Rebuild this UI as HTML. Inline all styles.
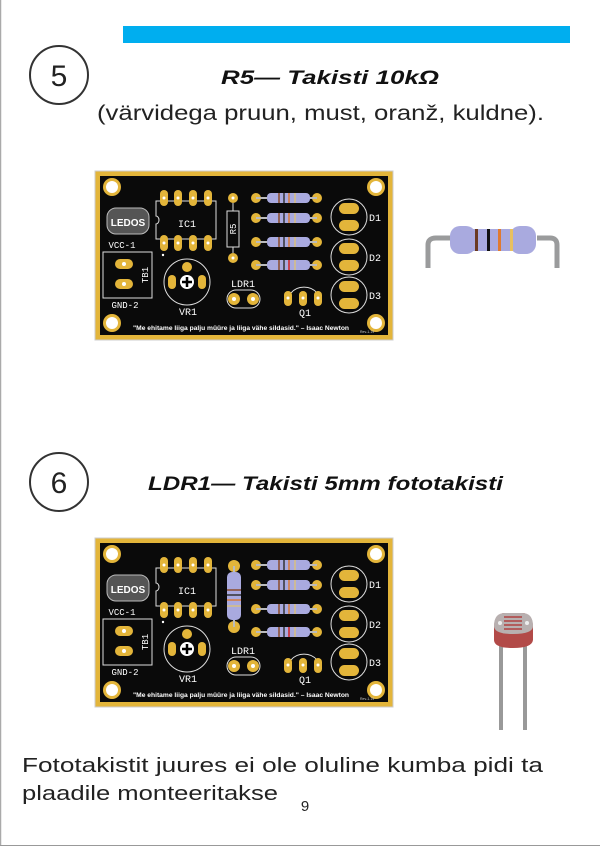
<!DOCTYPE html>
<html><head><meta charset="utf-8"><style>
html,body{margin:0;padding:0;background:#fff}
svg{display:block}
.t{font-family:"Liberation Sans","DejaVu Sans",sans-serif}
.m{font-family:"Liberation Mono","DejaVu Sans Mono",monospace;fill:#fff}
</style></head><body>
<svg width="600" height="846" viewBox="0 0 600 846" xmlns="http://www.w3.org/2000/svg">
<rect x="0" y="0" width="600" height="846" fill="#fff"/>
<line x1="0.5" y1="0" x2="0.5" y2="846" stroke="#aaa" stroke-width="1.5"/>
<line x1="0" y1="845.5" x2="600" y2="845.5" stroke="#999" stroke-width="1"/>
<rect x="123" y="26" width="447" height="17" fill="#00aeef"/>

<circle cx="59" cy="75" r="29" fill="none" stroke="#333" stroke-width="2"/>
<text x="59" y="86" text-anchor="middle" class="t" font-size="30" fill="#222">5</text>
<text x="330" y="84" text-anchor="middle" class="t" font-size="19" font-weight="bold" font-style="italic" fill="#111" textLength="218" lengthAdjust="spacingAndGlyphs">R5— Takisti 10kΩ</text>
<text x="97" y="120" class="t" font-size="21" fill="#222" textLength="447" lengthAdjust="spacingAndGlyphs">(värvidega pruun, must, oranž, kuldne).</text>

<circle cx="59" cy="482" r="29" fill="none" stroke="#333" stroke-width="2"/>
<text x="59" y="493" text-anchor="middle" class="t" font-size="30" fill="#222">6</text>
<text x="148" y="490" class="t" font-size="19" font-weight="bold" font-style="italic" fill="#111" textLength="355" lengthAdjust="spacingAndGlyphs">LDR1— Takisti 5mm fototakisti</text>

<text x="22" y="772" class="t" font-size="20" fill="#222" textLength="521" lengthAdjust="spacingAndGlyphs">Fototakistit juures ei ole oluline kumba pidi ta</text>
<text x="22" y="800" class="t" font-size="20" fill="#222" textLength="256" lengthAdjust="spacingAndGlyphs">plaadile monteeritakse</text>
<text x="305" y="811" text-anchor="middle" class="t" font-size="15" fill="#222">9</text>

<!-- resistor photo -->
<g>
<path d="M428 268 L428 245 Q428 238 436 238 L450 238" fill="none" stroke="#9a9b9c" stroke-width="5"/>
<path d="M537 238 L550 238 Q557 238 557 245 L557 268" fill="none" stroke="#9a9b9c" stroke-width="5"/>
<rect x="450" y="226" width="26" height="28" rx="10" fill="#a9aadf"/>
<rect x="510" y="226" width="26" height="28" rx="10" fill="#a9aadf"/>
<rect x="460" y="229" width="66" height="22" fill="#a9aadf"/>
<rect x="475" y="229" width="3" height="22" fill="#6b3a22"/>
<rect x="487" y="229" width="3" height="22" fill="#111"/>
<rect x="498" y="229" width="3" height="22" fill="#e07a30"/>
<rect x="510" y="229" width="3" height="22" fill="#e8c060"/>
</g>

<!-- LDR photo -->
<g>
<rect x="499" y="640" width="4" height="90" fill="#999"/>
<rect x="523" y="640" width="4" height="90" fill="#999"/>
<path d="M494 628 Q494 613 505 613 L522 613 Q533 613 533 628 L533 640 Q532 648 513 648 Q494 648 494 640 Z" fill="#b24a48"/>
<path d="M494 626 Q494 613 505 613 L522 613 Q533 613 533 626 Q533 634 513 634 Q494 634 494 626 Z" fill="#b8b0b0"/>
<path d="M504 617 h18 M504 621 h18 M504 625 h18 M504 629 h18" stroke="#b04040" stroke-width="1.5"/>
<circle cx="500" cy="623" r="2" fill="#eee"/><circle cx="527" cy="623" r="2" fill="#eee"/>
</g>

<!-- BOARD 1 -->
<g transform="translate(95,171)">
<rect x="0" y="0" width="298" height="169" fill="#e3b53a" stroke="#ccc" stroke-width="1"/>
<rect x="5" y="5" width="288" height="159" fill="#0a0a0a"/>
<g fill="#e3b53a"><circle cx="17" cy="16" r="9"/><circle cx="281" cy="16" r="9"/><circle cx="17" cy="152" r="9"/><circle cx="281" cy="152" r="9"/></g>
<g fill="#fff"><circle cx="17" cy="16" r="6"/><circle cx="281" cy="16" r="6"/><circle cx="17" cy="152" r="6"/><circle cx="281" cy="152" r="6"/></g>
<rect x="12" y="37" width="42" height="26" rx="9" fill="#555" stroke="#bbb" stroke-width="1"/>
<text x="33" y="55" text-anchor="middle" class="t" font-size="10" font-weight="bold" fill="#fff">LEDOS</text>
<text x="27" y="77" text-anchor="middle" class="m" font-size="9">VCC-1</text>
<rect x="8" y="81" width="49" height="46" fill="none" stroke="#ddd" stroke-width="1"/>
<g fill="#e3b53a"><rect x="20" y="88" width="18" height="10" rx="5"/><rect x="20" y="108" width="18" height="10" rx="5"/></g>
<g fill="#fff"><circle cx="29" cy="93" r="2"/><circle cx="29" cy="113" r="2"/></g>
<text transform="translate(53,104) rotate(-90)" text-anchor="middle" class="m" font-size="9">TB1</text>
<text x="30" y="137" text-anchor="middle" class="m" font-size="9">GND-2</text>
<path d="M61 30 H121 V68 H61 V53 A3 4 0 0 0 61 45 Z" fill="none" stroke="#ddd" stroke-width="1"/>
<g fill="#e3b53a"><rect x="65" y="19" width="8" height="16" rx="4"/><rect x="79" y="19" width="8" height="16" rx="4"/><rect x="94" y="19" width="8" height="16" rx="4"/><rect x="109" y="19" width="8" height="16" rx="4"/><rect x="65" y="64" width="8" height="16" rx="4"/><rect x="79" y="64" width="8" height="16" rx="4"/><rect x="94" y="64" width="8" height="16" rx="4"/><rect x="109" y="64" width="8" height="16" rx="4"/></g>
<g fill="#fff"><circle cx="69" cy="27" r="1.5"/><circle cx="83" cy="27" r="1.5"/><circle cx="98" cy="27" r="1.5"/><circle cx="113" cy="27" r="1.5"/><circle cx="69" cy="72" r="1.5"/><circle cx="83" cy="72" r="1.5"/><circle cx="98" cy="72" r="1.5"/><circle cx="113" cy="72" r="1.5"/><circle cx="68" cy="84" r="1.2"/></g>
<text x="92" y="56" text-anchor="middle" class="m" font-size="10">IC1</text>
<circle cx="92" cy="111" r="23" fill="none" stroke="#ddd" stroke-width="1"/>
<g fill="#e3b53a"><circle cx="92" cy="96" r="5"/><rect x="73" y="104" width="8" height="14" rx="4"/><rect x="103" y="104" width="8" height="14" rx="4"/></g>
<circle cx="92" cy="111" r="7" fill="#fff"/><path d="M87 111 h10 M92 106 v10" stroke="#000" stroke-width="2.5"/>
<text x="93" y="144" text-anchor="middle" class="m" font-size="10">VR1</text>
<g fill="#e3b53a"><circle cx="138" cy="27" r="5"/><circle cx="138" cy="87" r="5"/></g>
<g fill="#fff"><circle cx="138" cy="27" r="1.5"/><circle cx="138" cy="87" r="1.5"/></g>
<path d="M138 32 V40 M138 76 V82" stroke="#ddd"/>
<rect x="132" y="40" width="12" height="36" fill="none" stroke="#ddd" stroke-width="1"/>
<text transform="translate(141,58) rotate(-90)" text-anchor="middle" class="m" font-size="9">R5</text>
<g>
<g fill="#e3b53a"><circle cx="161" cy="27" r="5"/><circle cx="222" cy="27" r="5"/><circle cx="161" cy="47" r="5"/><circle cx="222" cy="47" r="5"/><circle cx="161" cy="71" r="5"/><circle cx="222" cy="71" r="5"/><circle cx="161" cy="94" r="5"/><circle cx="222" cy="94" r="5"/></g>
<path d="M161 27 H222 M161 47 H222 M161 71 H222 M161 94 H222" stroke="#bbb" stroke-width="2"/>
<g fill="#a9aadf"><rect x="172" y="22" width="43" height="10" rx="4"/><rect x="172" y="42" width="43" height="10" rx="4"/><rect x="172" y="66" width="43" height="10" rx="4"/><rect x="172" y="89" width="43" height="10" rx="4"/></g>
<g stroke-width="1.5"><path d="M184 22v10 M184 42v10 M184 66v10 M184 89v10" stroke="#8b4a2a"/><path d="M189 22v10 M189 42v10 M189 66v10 M189 89v10" stroke="#333"/><path d="M194 22v10 M194 42v10 M194 66v10" stroke="#d87a3a"/><path d="M194 89v10" stroke="#d02020"/><path d="M200 22v10 M200 42v10 M200 66v10 M200 89v10" stroke="#d8c080"/></g>
</g>
<text x="148" y="116" text-anchor="middle" class="m" font-size="10">LDR1</text>
<rect x="132" y="119" width="33" height="18" rx="9" fill="none" stroke="#ddd"/>
<g fill="#e3b53a"><circle cx="139" cy="128" r="6"/><circle cx="158" cy="128" r="6"/></g>
<g fill="#fff"><circle cx="139" cy="128" r="2"/><circle cx="158" cy="128" r="2"/></g>
<path d="M196 122 A16 14 0 0 1 222 122" fill="none" stroke="#ddd"/>
<g fill="#e3b53a"><rect x="189" y="120" width="8" height="15" rx="4"/><rect x="204" y="120" width="8" height="15" rx="4"/><rect x="219" y="120" width="8" height="15" rx="4"/></g>
<g fill="#fff"><circle cx="193" cy="127" r="1.5"/><circle cx="208" cy="127" r="1.5"/><circle cx="223" cy="127" r="1.5"/></g>
<text x="210" y="145" text-anchor="middle" class="m" font-size="10">Q1</text>
<g fill="none" stroke="#ddd"><circle cx="254" cy="46" r="18"/><circle cx="254" cy="86" r="18"/><circle cx="254" cy="124" r="18"/></g>
<g fill="#e3b53a"><rect x="244" y="32" width="20" height="11" rx="5.5"/><rect x="244" y="49" width="20" height="11" rx="5.5"/><rect x="244" y="72" width="20" height="11" rx="5.5"/><rect x="244" y="89" width="20" height="11" rx="5.5"/><rect x="244" y="110" width="20" height="11" rx="5.5"/><rect x="244" y="127" width="20" height="11" rx="5.5"/></g>
<text x="274" y="50" class="m" font-size="10">D1</text>
<text x="274" y="90" class="m" font-size="10">D2</text>
<text x="274" y="128" class="m" font-size="10">D3</text>
<text x="146" y="159" text-anchor="middle" class="t" font-size="6.5" font-weight="bold" fill="#fff" textLength="216" lengthAdjust="spacingAndGlyphs">"Me ehitame liiga palju müüre ja liiga vähe sildasid." – Isaac Newton</text>
<text x="265" y="162" class="t" font-size="3.5" fill="#ccc">Rev-1.19</text>
</g>

<!-- BOARD 2 -->
<g transform="translate(95,538)">
<rect x="0" y="0" width="298" height="169" fill="#e3b53a" stroke="#ccc" stroke-width="1"/>
<rect x="5" y="5" width="288" height="159" fill="#0a0a0a"/>
<g fill="#e3b53a"><circle cx="17" cy="16" r="9"/><circle cx="281" cy="16" r="9"/><circle cx="17" cy="152" r="9"/><circle cx="281" cy="152" r="9"/></g>
<g fill="#fff"><circle cx="17" cy="16" r="6"/><circle cx="281" cy="16" r="6"/><circle cx="17" cy="152" r="6"/><circle cx="281" cy="152" r="6"/></g>
<rect x="12" y="37" width="42" height="26" rx="9" fill="#555" stroke="#bbb" stroke-width="1"/>
<text x="33" y="55" text-anchor="middle" class="t" font-size="10" font-weight="bold" fill="#fff">LEDOS</text>
<text x="27" y="77" text-anchor="middle" class="m" font-size="9">VCC-1</text>
<rect x="8" y="81" width="49" height="46" fill="none" stroke="#ddd" stroke-width="1"/>
<g fill="#e3b53a"><rect x="20" y="88" width="18" height="10" rx="5"/><rect x="20" y="108" width="18" height="10" rx="5"/></g>
<g fill="#fff"><circle cx="29" cy="93" r="2"/><circle cx="29" cy="113" r="2"/></g>
<text transform="translate(53,104) rotate(-90)" text-anchor="middle" class="m" font-size="9">TB1</text>
<text x="30" y="137" text-anchor="middle" class="m" font-size="9">GND-2</text>
<path d="M61 30 H121 V68 H61 V53 A3 4 0 0 0 61 45 Z" fill="none" stroke="#ddd" stroke-width="1"/>
<g fill="#e3b53a"><rect x="65" y="19" width="8" height="16" rx="4"/><rect x="79" y="19" width="8" height="16" rx="4"/><rect x="94" y="19" width="8" height="16" rx="4"/><rect x="109" y="19" width="8" height="16" rx="4"/><rect x="65" y="64" width="8" height="16" rx="4"/><rect x="79" y="64" width="8" height="16" rx="4"/><rect x="94" y="64" width="8" height="16" rx="4"/><rect x="109" y="64" width="8" height="16" rx="4"/></g>
<g fill="#fff"><circle cx="69" cy="27" r="1.5"/><circle cx="83" cy="27" r="1.5"/><circle cx="98" cy="27" r="1.5"/><circle cx="113" cy="27" r="1.5"/><circle cx="69" cy="72" r="1.5"/><circle cx="83" cy="72" r="1.5"/><circle cx="98" cy="72" r="1.5"/><circle cx="113" cy="72" r="1.5"/><circle cx="68" cy="84" r="1.2"/></g>
<text x="92" y="56" text-anchor="middle" class="m" font-size="10">IC1</text>
<circle cx="92" cy="111" r="23" fill="none" stroke="#ddd" stroke-width="1"/>
<g fill="#e3b53a"><circle cx="92" cy="96" r="5"/><rect x="73" y="104" width="8" height="14" rx="4"/><rect x="103" y="104" width="8" height="14" rx="4"/></g>
<circle cx="92" cy="111" r="7" fill="#fff"/><path d="M87 111 h10 M92 106 v10" stroke="#000" stroke-width="2.5"/>
<text x="93" y="144" text-anchor="middle" class="m" font-size="10">VR1</text>
<g fill="#e3b53a"><circle cx="139" cy="28" r="6"/><circle cx="139" cy="89" r="6"/></g>
<path d="M139 28 V89" stroke="#bbb" stroke-width="2"/>
<rect x="132" y="34" width="14" height="48" rx="5" fill="#a9aadf"/>
<g stroke-width="1.5"><path d="M132 52h14" stroke="#8b4a2a"/><path d="M132 57h14" stroke="#333"/><path d="M132 62h14" stroke="#d87a3a"/><path d="M132 68h14" stroke="#d8c080"/></g>
<g>
<g fill="#e3b53a"><circle cx="161" cy="27" r="5"/><circle cx="222" cy="27" r="5"/><circle cx="161" cy="47" r="5"/><circle cx="222" cy="47" r="5"/><circle cx="161" cy="71" r="5"/><circle cx="222" cy="71" r="5"/><circle cx="161" cy="94" r="5"/><circle cx="222" cy="94" r="5"/></g>
<path d="M161 27 H222 M161 47 H222 M161 71 H222 M161 94 H222" stroke="#bbb" stroke-width="2"/>
<g fill="#a9aadf"><rect x="172" y="22" width="43" height="10" rx="4"/><rect x="172" y="42" width="43" height="10" rx="4"/><rect x="172" y="66" width="43" height="10" rx="4"/><rect x="172" y="89" width="43" height="10" rx="4"/></g>
<g stroke-width="1.5"><path d="M184 22v10 M184 42v10 M184 66v10 M184 89v10" stroke="#8b4a2a"/><path d="M189 22v10 M189 42v10 M189 66v10 M189 89v10" stroke="#333"/><path d="M194 22v10 M194 42v10 M194 66v10" stroke="#d87a3a"/><path d="M194 89v10" stroke="#d02020"/><path d="M200 22v10 M200 42v10 M200 66v10 M200 89v10" stroke="#d8c080"/></g>
</g>
<text x="148" y="116" text-anchor="middle" class="m" font-size="10">LDR1</text>
<rect x="132" y="119" width="33" height="18" rx="9" fill="none" stroke="#ddd"/>
<g fill="#e3b53a"><circle cx="139" cy="128" r="6"/><circle cx="158" cy="128" r="6"/></g>
<g fill="#fff"><circle cx="139" cy="128" r="2"/><circle cx="158" cy="128" r="2"/></g>
<path d="M196 122 A16 14 0 0 1 222 122" fill="none" stroke="#ddd"/>
<g fill="#e3b53a"><rect x="189" y="120" width="8" height="15" rx="4"/><rect x="204" y="120" width="8" height="15" rx="4"/><rect x="219" y="120" width="8" height="15" rx="4"/></g>
<g fill="#fff"><circle cx="193" cy="127" r="1.5"/><circle cx="208" cy="127" r="1.5"/><circle cx="223" cy="127" r="1.5"/></g>
<text x="210" y="145" text-anchor="middle" class="m" font-size="10">Q1</text>
<g fill="none" stroke="#ddd"><circle cx="254" cy="46" r="18"/><circle cx="254" cy="86" r="18"/><circle cx="254" cy="124" r="18"/></g>
<g fill="#e3b53a"><rect x="244" y="32" width="20" height="11" rx="5.5"/><rect x="244" y="49" width="20" height="11" rx="5.5"/><rect x="244" y="72" width="20" height="11" rx="5.5"/><rect x="244" y="89" width="20" height="11" rx="5.5"/><rect x="244" y="110" width="20" height="11" rx="5.5"/><rect x="244" y="127" width="20" height="11" rx="5.5"/></g>
<text x="274" y="50" class="m" font-size="10">D1</text>
<text x="274" y="90" class="m" font-size="10">D2</text>
<text x="274" y="128" class="m" font-size="10">D3</text>
<text x="146" y="159" text-anchor="middle" class="t" font-size="6.5" font-weight="bold" fill="#fff" textLength="216" lengthAdjust="spacingAndGlyphs">"Me ehitame liiga palju müüre ja liiga vähe sildasid." – Isaac Newton</text>
<text x="265" y="162" class="t" font-size="3.5" fill="#ccc">Rev-1.19</text>
</g>
</svg>
</body></html>
